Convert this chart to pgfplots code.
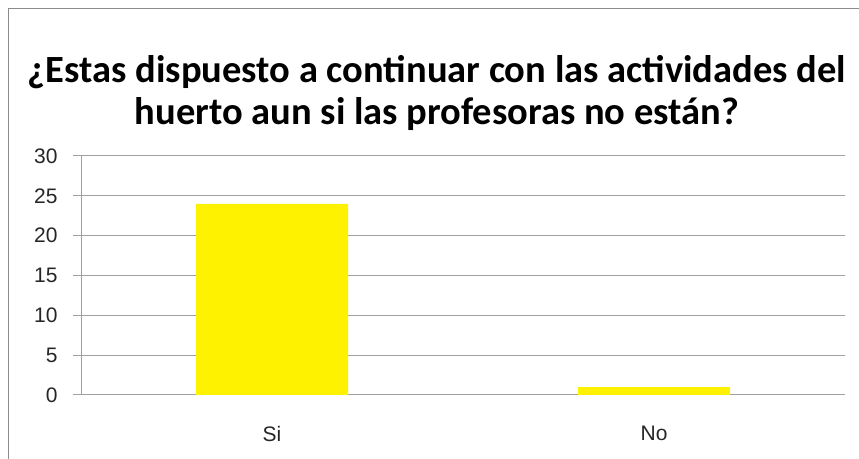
\documentclass[border=0pt]{standalone}
\usepackage{pgfplots}
\pgfplotsset{compat=1.18}
\usepackage{fontspec}
\setmainfont{Liberation Sans}
\newfontfamily\titlefont{Carlito}
\definecolor{gridgray}{RGB}{160,160,160}
\definecolor{framegray}{RGB}{140,140,140}
\begin{document}
\begin{tikzpicture}[x=1bp,y=1bp]
\useasboundingbox (0,0) rectangle (859,459);
\draw[framegray, line width=1.6bp] (8.5,0) -- (8.5,450.5) -- (859,450.5);
\node[align=center, font=\titlefont\bfseries\fontsize{38.5bp}{42bp}\selectfont] at (437,366) {¿Estas dispuesto a continuar con las actividades del\\huerto aun si las profesoras no están?};
\begin{axis}[
  at={(81bp,64bp)}, anchor=south west,
  scale only axis, width=764bp, height=239bp,
  xmin=-0.5, xmax=1.5, ymin=0, ymax=30,
  ytick={0,5,...,30},
  xtick={0,1}, xticklabels={Si,No},
  extra x ticks={-0.5,0.5,1.5}, extra x tick labels={},
  extra x tick style={major tick length=6bp, tick style={gridgray, line width=1bp}, grid=none},
  axis x line*=bottom, axis y line*=left,
  x axis line style={gridgray, line width=1bp, -},
  y axis line style={gridgray, line width=1bp, -},
  ymajorgrids, major grid style={gridgray, line width=1bp},
  major tick length=8bp,
  ytick style={gridgray, line width=1bp},
  xtick style={draw=none},
  tick align=outside,
  yticklabel style={font=\fontsize{21bp}{24bp}\selectfont, text=black!85, xshift=-12bp},
  xticklabel style={font=\fontsize{21bp}{24bp}\selectfont, text=black!85, yshift=-20bp},
  /pgf/number format/assume math mode=true,
  ybar, bar width=152bp,
  clip=false,
]
\addplot[fill=yellow, draw=none] coordinates {(0,24) (1,1)};
\end{axis}
\end{tikzpicture}
\end{document}
